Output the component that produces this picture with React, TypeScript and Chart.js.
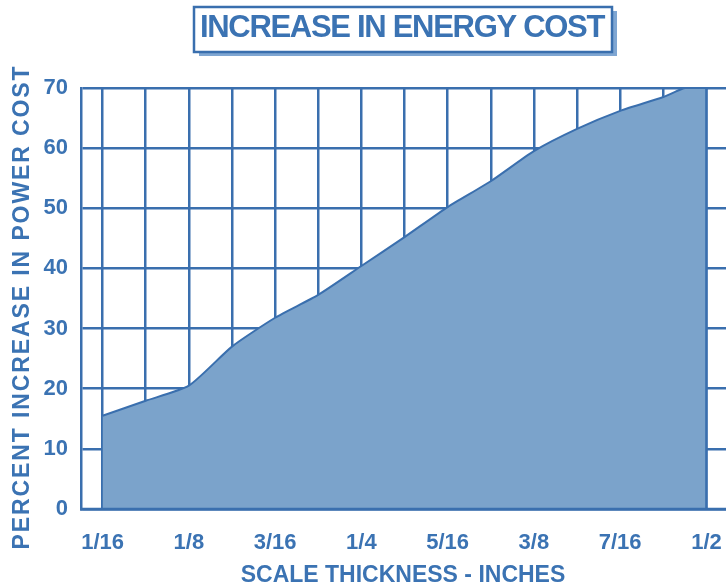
import React, { useEffect, useRef } from "react";
import { Chart, registerables } from "chart.js";

Chart.register(...registerables);

// Thickness in 1/32 inch units
const thicknessX = [2, 3, 4, 5, 6, 7, 8, 9, 10, 11, 12, 13, 14, 15, 15.5, 16];
const percentIncrease = [15.5, 18.0, 20.5, 27, 31.8, 35.6, 40.4, 45.2, 50.2, 54.5, 59.5, 63.2, 66.2, 68.5, 70, 70];
const gridX = [2, 3, 4, 5, 6, 7, 8, 9, 10, 11, 12, 13, 14, 15, 16];
const tickValues = [2, 4, 6, 8, 10, 12, 14, 16];
const tickLabels = ["1/16", "1/8", "3/16", "1/4", "5/16", "3/8", "7/16", "1/2"];

const chartTitle = "INCREASE IN ENERGY COST";
const xTitle = "SCALE THICKNESS - INCHES";
const yTitle = "PERCENT INCREASE IN POWER COST";

const BLUE = "#3a6fae";
const TEXT_BLUE = "#3b73b3";
const FILL = "#7ba3cb";
const FONT = "'Liberation Sans', Arial, Helvetica, sans-serif";

const titlesPlugin = {
  id: "customTitles",
  afterDatasetsDraw(chart: any) {
    const ctx = chart.ctx;
    const area = chart.chartArea;
    ctx.save();
    ctx.strokeStyle = BLUE;
    ctx.lineWidth = 2.5;
    ctx.beginPath();
    ctx.moveTo(area.left, area.bottom);
    ctx.lineTo(area.right, area.bottom);
    ctx.stroke();
    const xs = chart.scales.x;
    const px = xs.getPixelForValue(16);
    ctx.beginPath();
    ctx.moveTo(px, area.top);
    ctx.lineTo(px, area.bottom);
    ctx.stroke();
    ctx.restore();
  },
  afterDraw(chart: any) {
    const ctx = chart.ctx;
    ctx.save();
    ctx.fillStyle = "#7fa6d2";
    ctx.fillRect(199, 11, 418, 45);
    ctx.fillStyle = "#ffffff";
    ctx.fillRect(194, 7, 418, 45);
    ctx.strokeStyle = BLUE;
    ctx.lineWidth = 2.5;
    ctx.strokeRect(194, 7, 418, 45);

    ctx.fillStyle = TEXT_BLUE;
    ctx.textAlign = "center";
    ctx.textBaseline = "alphabetic";
    ctx.font = `bold 31px ${FONT}`;
    (ctx as any).letterSpacing = "-1.3px";
    ctx.fillText(chartTitle, 402, 37);

    ctx.font = `bold 23px ${FONT}`;
    (ctx as any).letterSpacing = "0px";
    ctx.fillText(xTitle, 403, 582);

    ctx.translate(29, 307);
    ctx.rotate(-Math.PI / 2);
    ctx.font = `bold 23px ${FONT}`;
    (ctx as any).letterSpacing = "1.9px";
    ctx.fillText(yTitle, 0, 0);
    ctx.restore();
  },
};

export default function App() {
  const ref = useRef<HTMLCanvasElement>(null);
  useEffect(() => {
    if (!ref.current) return;
    const chart = new Chart(ref.current, {
      type: "line",
      data: {
        datasets: [
          {
            data: thicknessX.map((x, i) => ({ x, y: percentIncrease[i] })),
            borderColor: BLUE,
            borderWidth: 2,
            backgroundColor: FILL,
            fill: "origin",
            pointRadius: 0,
            tension: 0.2,
          },
        ],
      },
      options: {
        animation: false,
        responsive: false,
        devicePixelRatio: 1,
        layout: { padding: { top: 88, left: 0, right: 32, bottom: 0 } },
        plugins: { legend: { display: false }, tooltip: { enabled: false } },
        scales: {
          x: {
            type: "linear",
            min: 1.5,
            max: 16.5,
            afterBuildTicks: (scale: any) => {
              scale.ticks = gridX.map((v) => ({ value: v }));
            },
            afterFit: (scale: any) => {
              scale.height = 78;
            },
            ticks: {
              autoSkip: false,
              maxRotation: 0,
              padding: 21,
              color: TEXT_BLUE,
              font: { family: FONT, size: 22, weight: "bold" },
              callback: (v: any) => {
                const idx = tickValues.indexOf(Number(v));
                return idx >= 0 ? tickLabels[idx] : "";
              },
            },
            grid: { color: BLUE, lineWidth: 2.5, drawTicks: false },
            border: { display: true, color: BLUE, width: 2.5 },
          },
          y: {
            min: 0,
            max: 70,
            afterFit: (scale: any) => {
              scale.width = 81;
            },
            ticks: {
              stepSize: 10,
              padding: 13,
              color: TEXT_BLUE,
              font: { family: FONT, size: 22, weight: "bold" },
            },
            grid: { color: BLUE, lineWidth: 2.5, drawTicks: false },
            border: { display: true, color: BLUE, width: 2.5 },
          },
        },
      },
      plugins: [titlesPlugin],
    });
    return () => chart.destroy();
  }, []);
  return (
    <div
      style={{
        position: "absolute",
        left: 0,
        top: 0,
        width: 726,
        height: 587,
        overflow: "hidden",
        background: "#ffffff",
      }}
    >
      <canvas ref={ref} width={760} height={587} style={{ width: 760, height: 587 }} />
    </div>
  );
}
